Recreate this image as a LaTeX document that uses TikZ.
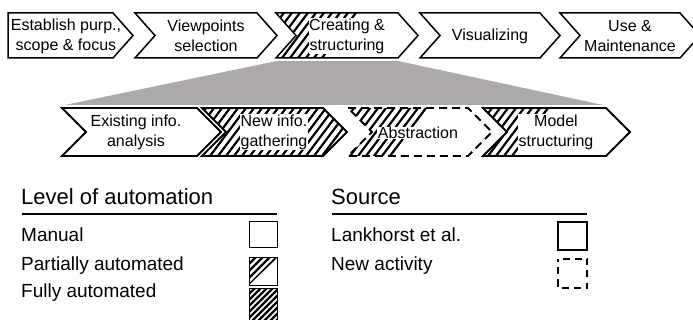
\documentclass[tikz,border=0pt]{standalone}
\usepackage{fontspec}
\setmainfont{Liberation Sans}
\definecolor{fangray}{RGB}{173,169,169}

% chevron outline: left x, right x, top y, bottom y, point depth
\newcommand\chevshape[5]{(#1,#3) -- (#2,#3) -- ({#2+#5},{(#3+#4)/2}) -- (#2,#4) -- (#1,#4) -- ({#1+#5},{(#3+#4)/2}) -- cycle}
% diagonal hatch: first bottom x, last bottom x, top y, bottom y, spacing
\def\stripek{0.75}
\newcommand\stripeset[5]{%
  \pgfmathtruncatemacro\nstripes{((#2)-(#1))/(#5)}%
  \foreach \i in {0,...,\nstripes}
    \draw[stripe] ({#1+\i*#5-\stripek*4},{#4+4}) -- ({#1+\i*#5+\stripek*(#4-#3+4)},{#3-4});%
}

\tikzset{
  chev/.style={draw=black, line width=1.5pt, line join=miter, miter limit=10},
  chevlow/.style={draw=black, line width=1.8pt, line join=miter, miter limit=10},
  stripe/.style={draw=black, line width=2.2pt},
  toplbl/.style={font=\fontsize{16}{20}\selectfont, align=center, inner sep=0.6pt},
  headlbl/.style={font=\fontsize{22}{26}\selectfont, anchor=west, inner sep=0pt},
  itemlbl/.style={font=\fontsize{19}{22}\selectfont, anchor=west, inner sep=0pt},
  rule/.style={draw=black, line width=1.3pt},
}

\begin{document}
\begin{tikzpicture}[x=1pt, y=-1pt]
\useasboundingbox (0,0) rectangle (693,320);
\clip (0,0) rectangle (693,320);

% ---- zoom fan between the two rows ----
\fill[fangray] (277,61) -- (398,61) -- (603,105) -- (65,105) -- cycle;

% ---- top row: the five phases ----
\draw[chev] (8,13) -- (113,13) -- (133,35.5) -- (113,58) -- (8,58) -- cycle;
\draw[chev] \chevshape{135}{257}{13}{58}{20};
\begin{scope}
  \clip \chevshape{276}{398}{13}{58}{20};
  \stripeset{226}{322}{13}{58}{8}
\end{scope}
\draw[chev] \chevshape{276}{398}{13}{58}{20};
\draw[chev] \chevshape{420}{540}{13}{58}{20};
\draw[chev] \chevshape{560}{680}{13}{58}{20};

\node[toplbl] (establish) at (66,36) {Establish purp.,\\scope \& focus};
\node[toplbl] (viewpoints) at (206,36) {Viewpoints\\selection};
\node[toplbl, fill=white] (creating) at (347,36) {Creating \&\\structuring};
\node[toplbl] (visualizing) at (490,36) {Visualizing};
\node[toplbl] (usemaint) at (630,36) {Use \&\\Maintenance};

% ---- bottom row: the sub-activities ----
\draw[chevlow] \chevshape{62}{197}{108}{156}{24};
\begin{scope}
  \clip \chevshape{202}{323}{108}{156}{24};
  \stripeset{154}{354}{108}{156}{8}
\end{scope}
\draw[chevlow] \chevshape{202}{323}{108}{156}{24};
\begin{scope}
  \clip \chevshape{348}{468}{108}{156}{24};
  \stripeset{294}{390}{108}{156}{8}
\end{scope}
\draw[chevlow, dash pattern=on 8pt off 5pt] \chevshape{348}{468}{108}{156}{24};
\begin{scope}
  \clip \chevshape{483}{606}{108}{156}{24};
  \stripeset{432}{512}{108}{156}{8}
\end{scope}
\draw[chevlow] \chevshape{483}{606}{108}{156}{24};

\node[toplbl] (existing) at (136,132) {Existing info.\\analysis};
\node[toplbl, fill=white] (newinfo) at (274,132) {New info.\\gathering};
\node[toplbl, fill=white] (abstraction) at (418,133) {Abstraction};
\node[toplbl, fill=white] (modelstr) at (556,132) {Model\\structuring};

% ---- legend: level of automation ----
\node[headlbl] (levelhead) at (21,197) {Level of automation};
\draw[rule] (22,214) -- (277,214);
\node[itemlbl] (manual) at (21,235) {Manual};
\node[itemlbl] (partial) at (21,266) {Partially automated};
\node[itemlbl] (fully) at (21,293) {Fully automated};

\draw[line width=1pt] (249,222) rectangle (277,248);
\begin{scope}
  \def\stripek{1.0}
  \clip (249,258) -- (277,258) -- (249,285) -- cycle;
  \stripeset{228}{249}{258}{285}{7}
\end{scope}
\draw[line width=1pt] (249,258) rectangle (277,285);
\begin{scope}
  \def\stripek{1.0}
  \clip (249,288) rectangle (277,325);
  \stripeset{200}{280}{288}{325}{6}
\end{scope}
\draw[line width=1pt] (249,325) -- (249,288) -- (277,288) -- (277,325);

% ---- legend: source ----
\node[headlbl] (sourcehead) at (331,197) {Source};
\draw[rule] (332,214) -- (587,214);
\node[itemlbl] (lankhorst) at (331,235) {Lankhorst et al.};
\node[itemlbl] (newact) at (331,266) {New activity};
\draw[line width=2pt] (558,222) rectangle (587,250);
\draw[line width=2pt, dash pattern=on 7pt off 5pt, dash phase=3.5pt] (558,259) rectangle (587,288);
\end{tikzpicture}
\end{document}
